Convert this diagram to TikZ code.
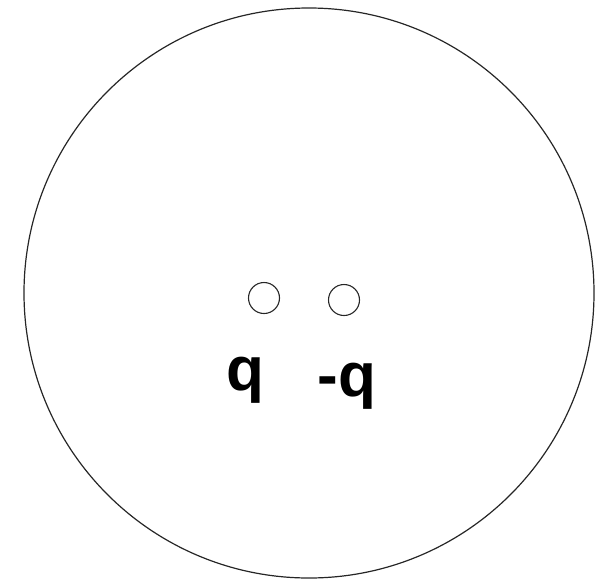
\documentclass[tikz,border=0pt]{standalone}
\usepackage{fontspec}
\setmainfont{Liberation Sans}
\begin{document}
\begin{tikzpicture}[x=1pt,y=-1pt,
  charge/.style={draw=black!85,line width=1.1pt,circle,minimum size=31pt,inner sep=0pt},
  lbl/.style={font=\fontsize{62}{62}\selectfont\bfseries,inner sep=0pt,anchor=base}]
\useasboundingbox (0,0) rectangle (608,582);
\node[draw=black!85,line width=1.2pt,circle,minimum size=570pt,inner sep=0pt] (sphere) at (309,293) {};
\node[charge] (p) at (264,298) {};
\node[charge] (n) at (344,300) {};
\node[lbl] (qp) at (245,390) {q};
\node[lbl] (qn) at (347,396) {-q};
\end{tikzpicture}
\end{document}
